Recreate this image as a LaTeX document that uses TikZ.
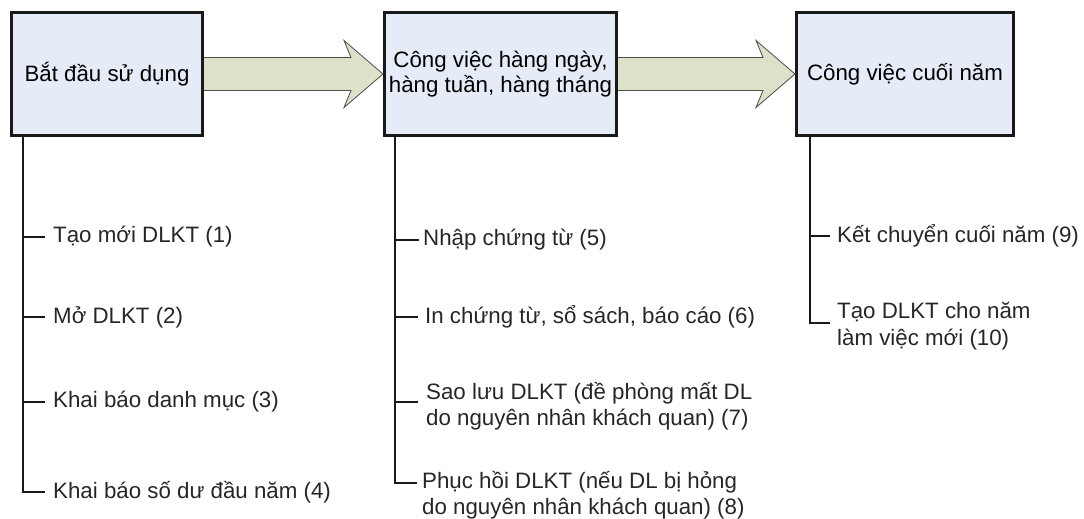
\documentclass[tikz,border=0pt]{standalone}
\usepackage{fontspec}
\setmainfont{Liberation Sans}
\definecolor{boxfill}{HTML}{E6ECF7}
\definecolor{arrowfill}{HTML}{DDE1CA}

% fat arrow from the right side of #1 to the left side of #2
\newcommand{\fatarrow}[2]{%
\filldraw[arrowline] ([yshift=16.5pt]#1.east)--([xshift=-32pt,yshift=16.5pt]#2.west)--([xshift=-39pt,yshift=33.5pt]#2.west)--(#2.west)
 --([xshift=-39pt,yshift=-33.5pt]#2.west)--([xshift=-32pt,yshift=-16.5pt]#2.west)--([yshift=-16.5pt]#1.east);}

\begin{document}
\begin{tikzpicture}[x=1pt,y=-1pt,
 box/.style={draw=black!90, line width=3pt, fill=boxfill, minimum height=122pt, align=center, inner sep=0pt, font=\fontsize{22.3}{25}\selectfont},
 item/.style={anchor=west, align=left, inner ysep=0pt, text=black!85, font=\fontsize{22.3}{26.5}\selectfont},
 tree/.style={line width=1.6pt, black!90},
 arrowline/.style={draw=black!70, line width=0.8pt, fill=arrowfill, line join=miter}]
\useasboundingbox (0,0) rectangle (1084,519);

 \node[box, minimum width=191pt] (b1) at (107,74) {Bắt đầu sử dụng};
 \node[box, minimum width=232pt] (b2) at (500.5,74) {Công việc hàng ngày,\\hàng tuần, hàng tháng};
 \node[box, minimum width=217pt] (b3) at (905,74) {Công việc cuối năm};

 \fatarrow{b1}{b2}
 \fatarrow{b2}{b3}

 \coordinate (s1) at ([xshift=13pt]b1.south west);
 \coordinate (s2) at ([xshift=12pt]b2.south west);
 \coordinate (s3) at ([xshift=15pt]b3.south west);

 % first column
 \node[item, inner xsep=8pt] (t1) at (45,237) {Tạo mới DLKT (1)};
 \node[item, inner xsep=8pt] (t2) at (45,317) {Mở DLKT (2)};
 \node[item, inner xsep=8pt] (t3) at (45,402) {Khai báo danh mục (3)};
 \node[item, inner xsep=8pt] (t4) at (45,492) {Khai báo số dư đầu năm (4)};

 % second column
 \node[item, inner xsep=4pt] (t5) at (419,240) {Nhập chứng từ (5)};
 \node[item, inner xsep=7pt] (t6) at (418,317) {In chứng từ, sổ sách, báo cáo (6)};
 \node[item, inner xsep=8pt] (t7) at (418,406) {Sao lưu DLKT (đề phòng mất DL\\do nguyên nhân khách quan) (7)};
 \node[item, inner xsep=5pt] (t8) at (417,495) {Phục hồi DLKT (nếu DL bị hỏng\\do nguyên nhân khách quan) (8)};

 % third column
 \node[item, inner xsep=7pt] (t9) at (830,236) {Kết chuyển cuối năm (9)};
 \node[item, inner xsep=7pt] (t10) at (830,326) {Tạo DLKT cho năm\\làm việc mới (10)};

 \coordinate (k7) at ([yshift=4pt]t7.west);
 \coordinate (k8) at ([yshift=12pt]t8.west);
 \coordinate (k10) at ([yshift=3pt]t10.west);

 \draw[tree] (s1) |- (t4.west);
 \foreach \t in {t1,t2,t3}
  \draw[tree] (s1 |- \t.west) -- (\t.west);

 \draw[tree] (s2) |- (k8);
 \foreach \t in {t5.west,t6.west,k7}
  \draw[tree] (s2 |- \t) -- (\t);

 \draw[tree] (s3) |- (k10);
 \draw[tree] (s3 |- t9.west) -- (t9.west);

\end{tikzpicture}
\end{document}
